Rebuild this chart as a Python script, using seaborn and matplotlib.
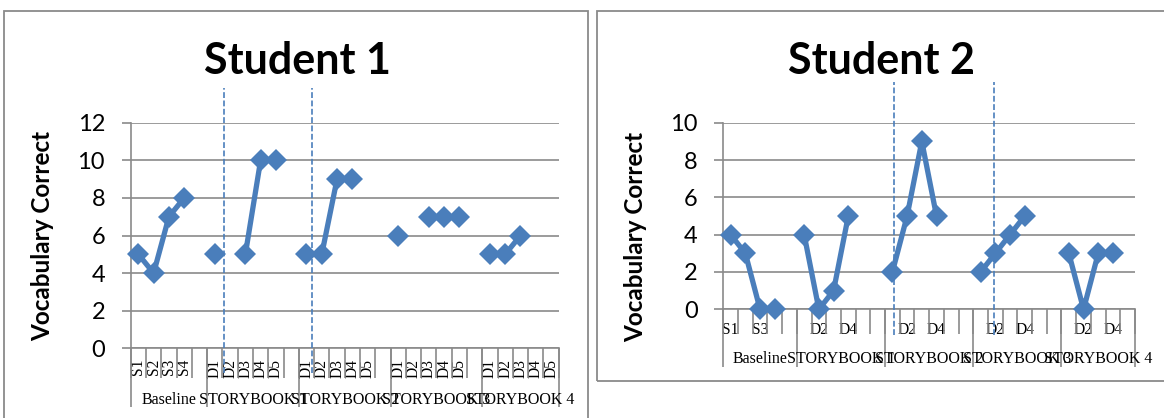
import numpy as np
import pandas as pd
import matplotlib
matplotlib.use("Agg")
import matplotlib.pyplot as plt
import seaborn as sns
from matplotlib.patches import Rectangle

# ---------------- data ----------------
group_names = ["Baseline", "STORYBOOK 1", "STORYBOOK 2", "STORYBOOK 3", "STORYBOOK 4"]
group_sizes = [5, 6, 6, 6, 5]
slot_labels = ["S1", "S2", "S3", "S4", "",
               "D1", "D2", "D3", "D4", "D5", "",
               "D1", "D2", "D3", "D4", "D5", "",
               "D1", "D2", "D3", "D4", "D5", "",
               "D1", "D2", "D3", "D4", "D5"]
N = None
student1_values = [5, 4, 7, 8, N,
                   5, N, 5, 10, 10, N,
                   5, 5, 9, 9, N, N,
                   6, N, 7, 7, 7, N,
                   5, 5, 6, N, N]
student2_values = [4, 3, 0, 0, N,
                   4, 0, 1, 5, N, N,
                   2, 5, 9, 5, N, N,
                   2, 3, 4, 5, N, N,
                   3, 0, 3, 3, N]
phase_lines_s1 = [5.62, 11.34]
phase_lines_s2 = [11.11, 17.92]

# ---------------- style ----------------
sns.set_style("white")
plt.rcParams["font.family"] = ["Lato", "DejaVu Sans"]
for k in ["text.color", "axes.labelcolor", "xtick.color", "ytick.color"]:
    plt.rcParams[k] = "black"
BLUE = "#4A7EBB"
GRAY = "#8A8A8A"
W, H = 1164, 418
fig = plt.figure(figsize=(W / 100, H / 100), dpi=100)
fig.patch.set_facecolor("white")

# chart-area frames
fig.patches.append(Rectangle((4 / W, -0.05), (588 - 4) / W, 1 - 11 / H + 0.05,
                             transform=fig.transFigure, fill=False,
                             edgecolor=GRAY, lw=1.3, zorder=0))
fig.patches.append(Rectangle((597 / W, 1 - 381 / H), (1175 - 597) / W, (381 - 11) / H,
                             transform=fig.transFigure, fill=False,
                             edgecolor=GRAY, lw=1.3, zorder=0))


def segments(values):
    rows, seg = [], 0
    prev = False
    for i, v in enumerate(values):
        if v is None:
            if prev:
                seg += 1
            prev = False
            continue
        rows.append({"x": i, "y": v, "seg": seg})
        prev = True
    return pd.DataFrame(rows)


def draw(rect, values, ymax, title, title_xy, phase, dash_span, rotate,
         every, small_len, group_len, lab_pad, group_pad, ylab_xy):
    ax = fig.add_axes([rect[0] / W, 1 - rect[3] / H,
                       (rect[2] - rect[0]) / W, (rect[3] - rect[1]) / H])
    df = segments(values)
    sns.lineplot(data=df, x="x", y="y", units="seg", estimator=None, ax=ax,
                 color=BLUE, lw=3.8, marker="D", markersize=11,
                 markeredgecolor=BLUE, markeredgewidth=0, legend=False,
                 clip_on=False, zorder=5)
    n = len(slot_labels)
    ax.set_xlim(-0.5, n - 0.5)
    ax.set_ylim(0, ymax)
    ax.set_yticks(np.arange(0, ymax + 1, 2))
    ax.yaxis.grid(True, color=GRAY, lw=1.2)
    ax.set_axisbelow(True)
    for s in ["top", "right"]:
        ax.spines[s].set_visible(False)
    for s in ["left", "bottom"]:
        ax.spines[s].set_color(GRAY)
        ax.spines[s].set_linewidth(1.2)
    ax.tick_params(axis="y", length=6.5, width=1.2, color=GRAY, pad=12,
                   labelsize=17, direction="out", left=True)
    labels = [lab if i % every == 0 else "" for i, lab in enumerate(slot_labels)]
    ax.set_xticks(np.arange(n))
    ax.set_xticklabels(labels, rotation=90 if rotate else 0,
                       family=["Liberation Serif"], fontsize=11.2,
                       va="top", ha="center")
    ax.tick_params(axis="x", which="major", length=0, pad=lab_pad)
    ax.set_xticks(np.arange(-0.5, n, 1), minor=True)
    ax.tick_params(axis="x", which="minor", length=small_len, width=1.2,
                   color=GRAY, direction="out", bottom=True)
    ax.set_xlabel("")
    ax.set_ylabel("Vocabulary Correct", fontsize=17.5, fontweight="bold")
    ax.yaxis.set_label_coords(*ylab_xy)

    bounds = np.cumsum([0] + group_sizes) - 0.5
    centers = (bounds[:-1] + bounds[1:]) / 2
    sec = ax.secondary_xaxis("bottom")
    for sp in sec.spines.values():
        sp.set_visible(False)
    sec.set_xticks(bounds)
    sec.set_xticklabels([""] * len(bounds))
    sec.set_xticks(centers, minor=True)
    sec.set_xticklabels(group_names, minor=True,
                        family=["Liberation Serif"], fontsize=11.5)
    sec.tick_params(axis="x", which="major", length=group_len, width=1.2,
                    color=GRAY, direction="out")
    sec.tick_params(axis="x", which="minor", length=0, pad=group_pad)

    for xv in phase:
        ax.axvline(xv, ymin=dash_span[0], ymax=dash_span[1], color=BLUE,
                   lw=1.2, ls=(0, (3.5, 1.5)), clip_on=False, zorder=4)

    fig.text(title_xy[0] / W, 1 - title_xy[1] / H, title, ha="center",
             va="center", fontsize=31, fontweight="bold")
    return ax


draw((130.7, 122.7, 558.7, 348.3), student1_values, 12, "Student 1", (297, 61),
     phase_lines_s1, (-0.11, 1.152), True, 1, 21.6, 42.5, 7.5, 31.5,
     (-0.18, 0.5))
draw((723.3, 122.7, 1135.0, 309.3), student2_values, 10, "Student 2", (881, 61),
     phase_lines_s2, (-0.138, 1.218), False, 2, 18.0, 42.0, 9.5, 30.0,
     (-0.185, 0.39))

fig.savefig("out.png", dpi=100)
